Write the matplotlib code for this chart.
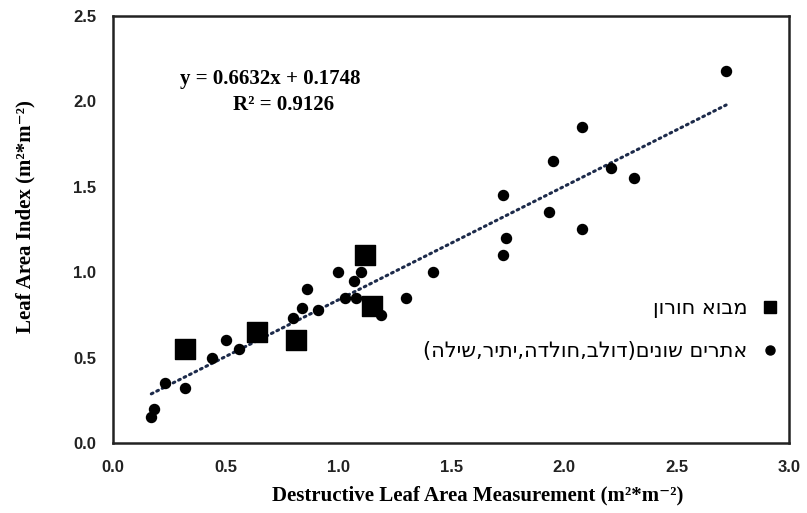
import numpy as np
import matplotlib
matplotlib.use("Agg")
import matplotlib.pyplot as plt
from matplotlib.lines import Line2D

# site: Mevo Horon (squares)
horon_x = [0.32, 0.64, 0.81, 1.12, 1.15]
horon_y = [0.55, 0.65, 0.60, 1.10, 0.80]

# other sites (circles)
other_x = [0.17, 0.18, 0.23, 0.32, 0.44, 0.50, 0.56, 0.80, 0.84, 0.86, 0.91,
           1.00, 1.03, 1.07, 1.08, 1.10, 1.19, 1.30, 1.42,
           1.73, 1.745, 1.73, 1.935, 1.95, 2.08, 2.08, 2.21, 2.31, 2.72]
other_y = [0.15, 0.20, 0.35, 0.32, 0.50, 0.60, 0.55, 0.73, 0.79, 0.90, 0.78,
           1.00, 0.85, 0.95, 0.85, 1.00, 0.75, 0.85, 1.00,
           1.45, 1.20, 1.10, 1.35, 1.65, 1.85, 1.25, 1.61, 1.55, 2.18]

slope = 0.6632
intercept = 0.1748
r2 = 0.9126

x_ticks = [0.0, 0.5, 1.0, 1.5, 2.0, 2.5, 3.0]
y_ticks = [0.0, 0.5, 1.0, 1.5, 2.0, 2.5]

label_horon = "מבוא חורון"
label_other = "אתרים שונים(דולב,חולדה,יתיר,שילה)"


def visual(s):
    # matplotlib has no bidi support: reverse hebrew and mirror brackets
    mirror = {"(": ")", ")": "("}
    return "".join(mirror.get(c, c) for c in reversed(s))


serif = ["Liberation Serif", "DejaVu Serif"]
sans = ["Liberation Sans", "DejaVu Sans"]

fig = plt.figure(figsize=(8.07, 5.13), dpi=100)
ax = fig.add_axes([0.140, 0.1365, 0.838, 0.8324])

ax.scatter(other_x, other_y, s=52, marker="o", color="black", zorder=3)
ax.scatter(horon_x, horon_y, s=190, marker="s", color="black", zorder=3)

all_x = np.array(other_x + horon_x)
fx = np.array([all_x.min(), all_x.max()])
ax.plot(fx, slope * fx + intercept, color="#1c2a4a", lw=2.2,
        linestyle=(0, (0.6, 1.4)), dash_capstyle="round", zorder=2)

ax.set_xlim(0, 3.0)
ax.set_ylim(0, 2.5)
ax.set_xticks(x_ticks)
ax.set_yticks(y_ticks)
ax.set_xticklabels(["%.1f" % v for v in x_ticks])
ax.set_yticklabels(["%.1f" % v for v in y_ticks])
ax.tick_params(length=0, pad=12)
for lab in ax.get_xticklabels() + ax.get_yticklabels():
    lab.set_family(sans)
    lab.set_fontweight("bold")
    lab.set_fontsize(12)
    lab.set_color("#222222")

for sp in ax.spines.values():
    sp.set_linewidth(1.8)
    sp.set_color("#222222")

ax.set_xlabel("Destructive Leaf Area Measurement (m²*m⁻²)", family=serif,
              fontweight="bold", fontsize=15)
ax.xaxis.set_label_coords(0.54, -0.10)
ax.set_ylabel("Leaf Area Index (m²*m⁻²)", family=serif,
              fontweight="bold", fontsize=15)
ax.yaxis.set_label_coords(-0.115, 0.53)

ax.text(0.232, 0.852, "y = %.4fx + %.4f" % (slope, intercept), transform=ax.transAxes,
        ha="center", va="center", family=serif, fontweight="bold", fontsize=15)
ax.text(0.252, 0.792, "R² = %.4f" % r2, transform=ax.transAxes,
        ha="center", va="center", family=serif, fontweight="bold", fontsize=15)

handles = [
    Line2D([], [], marker="s", color="black", linestyle="none", markersize=8),
    Line2D([], [], marker="o", color="black", linestyle="none", markersize=6.5),
]
ax.legend(handles, [visual(label_horon), visual(label_other)],
          loc="center right", bbox_to_anchor=(1.03, 0.265), frameon=False,
          markerfirst=False, labelspacing=1.1, handletextpad=0.1,
          prop={"family": ["DejaVu Sans"], "size": 15})

fig.savefig("out.png", dpi=100)
